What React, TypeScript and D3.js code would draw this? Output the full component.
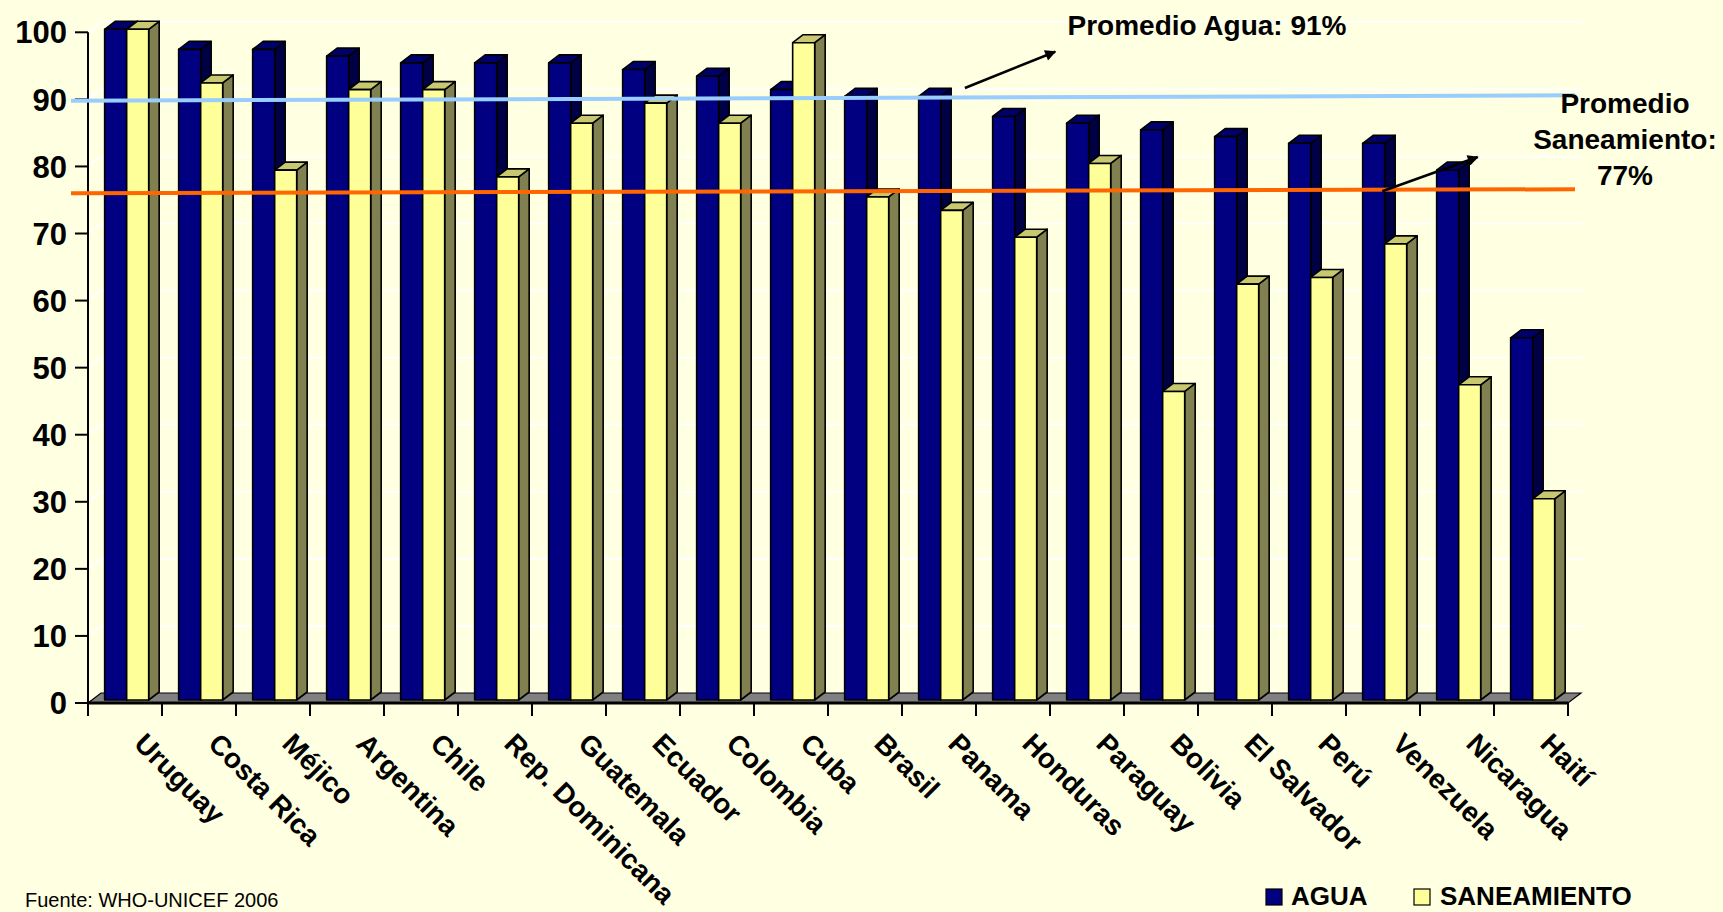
import React, { useEffect } from "react";
import * as d3 from "d3";

const categories = ["Uruguay", "Costa Rica", "Méjico", "Argentina", "Chile", "Rep. Dominicana", "Guatemala", "Ecuador", "Colombia", "Cuba", "Brasil", "Panama", "Honduras", "Paraguay", "Bolivia", "El Salvador", "Perú", "Venezuela", "Nicaragua", "Haití"];
const agua = [100, 97, 97, 96, 95, 95, 95, 94, 93, 91, 90, 90, 87, 86, 85, 84, 83, 83, 79, 54];
const saneamiento = [100, 92, 79, 91, 91, 78, 86, 89, 86, 98, 75, 73, 69, 80, 46, 62, 63, 68, 47, 30];
const yTicks = [0, 10, 20, 30, 40, 50, 60, 70, 80, 90, 100];
const seriesNames = ["AGUA", "SANEAMIENTO"];
// reference lines drawn on the slide (start / end value)
const aguaLine = [89.8, 90.6];
const saneLine = [76.0, 76.6];
const aguaLabel = "Promedio Agua: 91%";
const saneLabel = ["Promedio", "Saneamiento:", "77%"];
const source = "Fuente: WHO-UNICEF 2006";

const W = 1723, H = 912;
const BG = "#FFFFE1";
const FONT = "'Liberation Sans', Arial, sans-serif";

const colors = [
  { front: "#000080", top: "#00006A", side: "#000044" },
  { front: "#FFFF99", top: "#C8C870", side: "#808050" },
];

export default function App() {
  useEffect(() => {
    document.body.style.margin = "0";
    document.body.style.overflow = "hidden";
    document.body.style.background = BG;
  }, []);

  const x0 = 88, x1 = 1568;
  const xScale = d3.scaleBand<string>().domain(categories).range([x0, x1]);
  const bw = xScale.bandwidth();
  const inner = d3.scaleBand<string>().domain(seriesNames).range([bw * 0.225, bw * 0.82]);
  const y = d3.scaleLinear().domain([0, 100]).range([703, 32.3]);
  const fdx = 13, fdy = 10; // floor / wall depth
  const bdx = 10.5, bdy = 8; // bar depth
  const lift = 3;
  const yBase = y(0) - lift;

  const bars: JSX.Element[] = [];
  categories.forEach((c, i) => {
    [agua[i], saneamiento[i]].forEach((v, s) => {
      const bx = (xScale(c) as number) + (inner(seriesNames[s]) as number);
      const w = inner.bandwidth();
      const yt = y(v) - lift;
      const col = colors[s];
      bars.push(
        <g key={c + s} stroke="#000" strokeWidth={1.6} strokeLinejoin="round">
          <polygon points={`${bx + w},${yt} ${bx + w + bdx},${yt - bdy} ${bx + w + bdx},${yBase - bdy} ${bx + w},${yBase}`} fill={col.side} />
          <polygon points={`${bx},${yt} ${bx + w},${yt} ${bx + w + bdx},${yt - bdy} ${bx + bdx},${yt - bdy}`} fill={col.top} />
          <rect x={bx} y={yt} width={w} height={yBase - yt} fill={col.front} />
        </g>
      );
    });
  });

  const xAt = (t: number) => x0 + t * bw;
  const lineX0 = x0 - 17, lineX1 = x1 + 7;

  return (
    <svg width={W} height={H} style={{ position: "absolute", left: 0, top: 0, display: "block" }} fontFamily={FONT}>
      <defs>
        <marker id="ah" viewBox="0 0 10 10" refX="9" refY="5" markerWidth="15" markerHeight="11" markerUnits="userSpaceOnUse" orient="auto">
          <path d="M0,0 L10,5 L0,10 z" fill="#000" />
        </marker>
      </defs>
      <rect width={W} height={H} fill={BG} />

      {/* wall gridlines */}
      {yTicks.map((t) => (
        <polyline key={"g" + t} points={`${x0},${y(t)} ${x0 + fdx},${y(t) - fdy} ${x1 + fdx + 1},${y(t) - fdy}`} fill="none" stroke="#FFFFFF" strokeWidth={2} />
      ))}

      {/* floor */}
      <polygon points={`${x0},${y(0)} ${x1},${y(0)} ${x1 + fdx},${y(0) - fdy} ${x0 + fdx},${y(0) - fdy}`} fill="#808080" stroke="#000" strokeWidth={1.2} />

      {bars}

      {/* axes */}
      <line x1={x0} y1={y(100)} x2={x0} y2={y(0)} stroke="#000" strokeWidth={2} />
      <line x1={x0} y1={y(0)} x2={x1} y2={y(0)} stroke="#000" strokeWidth={3} />
      {yTicks.map((t) => (
        <g key={"yt" + t}>
          <line x1={x0 - 13} x2={x0} y1={y(t)} y2={y(t)} stroke="#000" strokeWidth={2} />
          <text x={67} y={y(t)} dy="0.36em" textAnchor="end" fontSize={31} fontWeight="bold" fill="#000">{t}</text>
        </g>
      ))}
      {d3.range(categories.length + 1).map((k) => (
        <line key={"xt" + k} x1={xAt(k)} x2={xAt(k)} y1={y(0)} y2={y(0) + 13} stroke="#000" strokeWidth={2} />
      ))}
      {categories.map((c) => {
        const px = (xScale(c) as number) + bw / 2 + 22;
        const py = 731;
        return (
          <text key={"lab" + c} x={px} y={py} dy="0.72em" transform={`rotate(45, ${px}, ${py})`} fontSize={28} fontWeight="bold" fill="#000">{c}</text>
        );
      })}

      {/* average lines */}
      <line x1={lineX0} y1={y(aguaLine[0])} x2={lineX1} y2={y(aguaLine[1])} stroke="#99CCFF" strokeWidth={4} />
      <line x1={lineX0} y1={y(saneLine[0])} x2={lineX1} y2={y(saneLine[1])} stroke="#FF6600" strokeWidth={4} />

      {/* arrows */}
      <line x1={xAt(11.85)} y1={y(91.7)} x2={xAt(13.07)} y2={y(97.1)} stroke="#000" strokeWidth={2.5} markerEnd="url(#ah)" />
      <line x1={xAt(17.49)} y1={y(76.3)} x2={xAt(18.78)} y2={y(81.4)} stroke="#000" strokeWidth={2.5} markerEnd="url(#ah)" />

      {/* annotations */}
      <text x={1207} y={35} textAnchor="middle" fontSize={28} fontWeight="bold" fill="#000">{aguaLabel}</text>
      {saneLabel.map((s, i) => (
        <text key={"sl" + i} x={1625} y={113 + i * 36} textAnchor="middle" fontSize={28} fontWeight="bold" fill="#000">{s}</text>
      ))}

      {/* legend */}
      <rect x={1266} y={889} width={16} height={16} fill={colors[0].front} stroke="#000" strokeWidth={1.2} />
      <text x={1291} y={905} fontSize={26} fontWeight="bold" fill="#000">{seriesNames[0]}</text>
      <rect x={1414} y={889} width={16} height={16} fill={colors[1].front} stroke="#000" strokeWidth={1.2} />
      <text x={1440} y={905} fontSize={26} fontWeight="bold" fill="#000">{seriesNames[1]}</text>

      <text x={25} y={907} fontSize={20} fill="#000">{source}</text>
    </svg>
  );
}
